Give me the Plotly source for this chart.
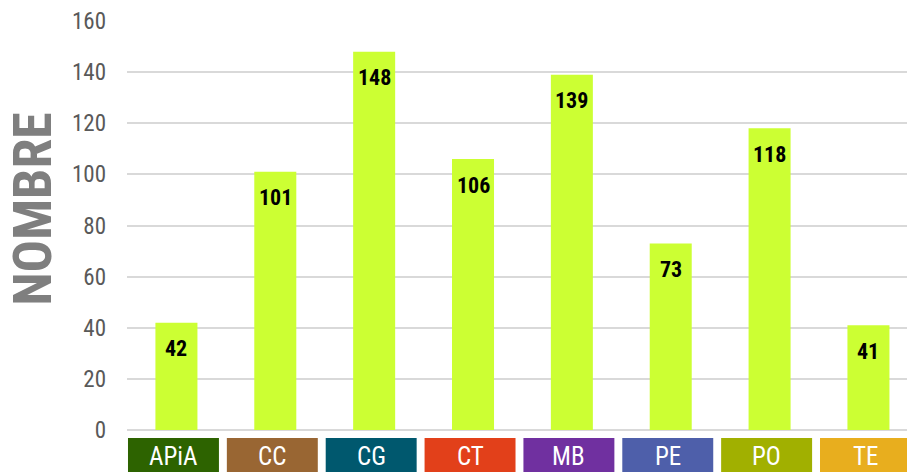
import plotly.graph_objects as go

# Data
categories = ["APiA", "CC", "CG", "CT", "MB", "PE", "PO", "TE"]
counts = [42, 101, 148, 106, 139, 73, 118, 41]
category_colors = ["#2D6300", "#996633", "#00586E", "#E2401A",
                   "#7030A0", "#4E5FAA", "#A1B000", "#E8AE1E"]
y_ticks = [0, 20, 40, 60, 80, 100, 120, 140, 160]

NARROW = "Liberation Sans Narrow, Arial Narrow, Roboto Condensed, Liberation Sans, sans-serif"
BAR_COLOR = "#CCFF33"

idx = list(range(len(categories)))

fig = go.Figure(
    go.Bar(
        x=idx,
        y=counts,
        width=0.425,
        marker=dict(color=BAR_COLOR, line=dict(width=0)),
        hoverinfo="skip",
    )
)

# value labels just inside the top of each bar
annotations = []
for i, v in zip(idx, counts):
    annotations.append(dict(
        x=i, y=v, xref="x", yref="y", text=f"<b>{v}</b>",
        showarrow=False, yanchor="middle", xanchor="center", yshift=-26,
        font=dict(family=NARROW, size=22, color="#000000"),
    ))

# coloured category boxes under the axis
shapes = []
for i, (c, col) in enumerate(zip(categories, category_colors)):
    shapes.append(dict(
        type="rect", xref="x", yref="paper",
        x0=i - 0.49, x1=i + 0.43, y0=-0.12, y1=-0.0196,
        fillcolor=col, line=dict(width=0), layer="above",
    ))
    annotations.append(dict(
        x=i - 0.03, y=-0.0636, xref="x", yref="paper", text=c,
        showarrow=False, yanchor="middle", xanchor="center",
        font=dict(family=NARROW, size=25, color="#FFFFFF"),
    ))

# vertical axis title
annotations.append(dict(
    x=-0.1218, y=0.5416, xref="paper", yref="paper", text="<b>NOMBRE</b>",
    showarrow=False, textangle=-90, xanchor="center", yanchor="middle",
    font=dict(family=NARROW, size=54, color="#7F7F7F"),
))

fig.update_layout(
    width=907,
    height=472,
    margin=dict(l=127, r=0, t=21, b=42),
    paper_bgcolor="#FFFFFF",
    plot_bgcolor="#FFFFFF",
    showlegend=False,
    font=dict(family=NARROW),
    annotations=annotations,
    shapes=shapes,
    xaxis=dict(
        range=[-0.5, 7.39],
        showticklabels=False,
        showgrid=False,
        zeroline=False,
        showline=False,
        ticks="",
        fixedrange=True,
    ),
    yaxis=dict(
        range=[0, 160],
        tickvals=y_ticks,
        ticktext=[str(t) for t in y_ticks],
        tickfont=dict(family=NARROW, size=23, color="#595959"),
        showgrid=True,
        gridcolor="#D9D9D9",
        gridwidth=2,
        zeroline=True,
        zerolinecolor="#D9D9D9",
        zerolinewidth=2,
        showline=False,
        ticks="",
        ticklabelstandoff=20,
        fixedrange=True,
    ),
)

fig.write_html("out.html")
